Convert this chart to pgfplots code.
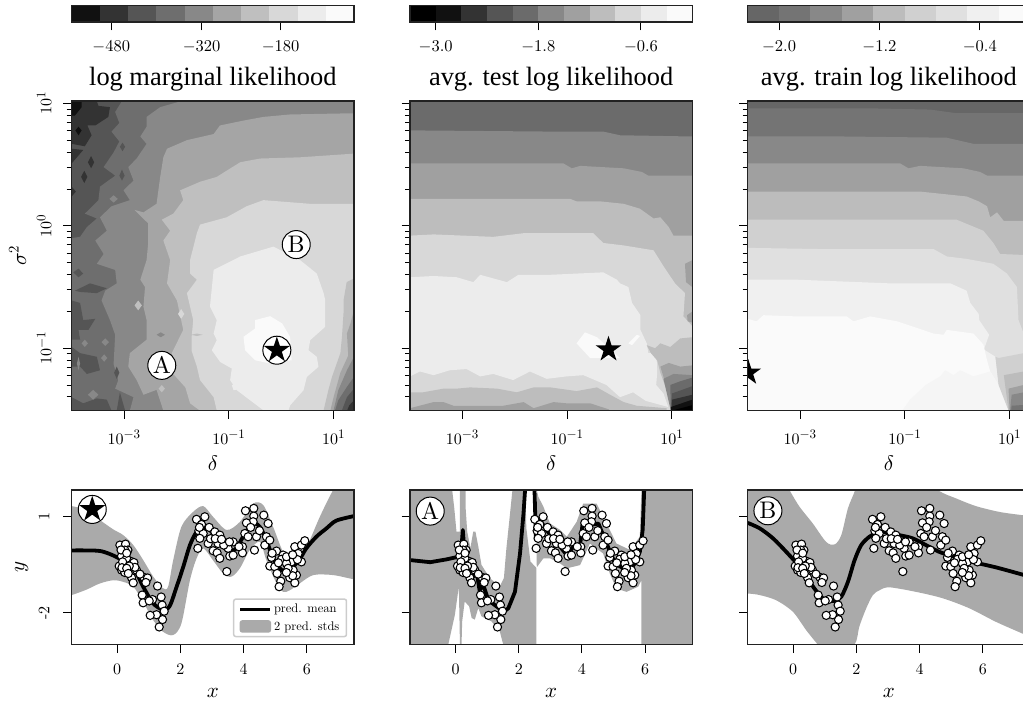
\RequirePackage{fix-cm}
\documentclass[border=0pt]{standalone}
\usepackage[no-math]{fontspec}
\usepackage{pgfplots}
\usepackage{pgfplotstable}
\pgfplotsset{compat=1.18}
\DeclareFontShape{OT1}{cmr}{m}{n}{<->cmr10}{}
\DeclareFontShape{OML}{cmm}{m}{it}{<->cmmi10}{}
\DeclareFontShape{OMS}{cmsy}{m}{n}{<->cmsy10}{}
\DeclareMathSizes{16}{16}{13}{10}
\newcommand{\cmtext}{\fontencoding{OT1}\fontfamily{cmr}\fontseries{m}\fontshape{n}\selectfont}
\newfontfamily\tnr{Liberation Serif}
\definecolor{g00}{HTML}{000000}\definecolor{g11}{HTML}{111111}\definecolor{g33}{HTML}{333333}
\definecolor{g55}{HTML}{555555}\definecolor{g66}{HTML}{666666}\definecolor{g6b}{HTML}{6B6B6B}
\definecolor{g6e}{HTML}{6E6E6E}\definecolor{g74}{HTML}{747474}\definecolor{g88}{HTML}{888888}
\definecolor{ga0}{HTML}{A0A0A0}\definecolor{ga5}{HTML}{A5A5A5}\definecolor{gbc}{HTML}{BCBCBC}
\definecolor{gbd}{HTML}{BDBDBD}\definecolor{gbf}{HTML}{BFBFBF}\definecolor{gd0}{HTML}{D0D0D0}
\definecolor{gd8}{HTML}{D8D8D8}\definecolor{ge0}{HTML}{E0E0E0}\definecolor{gec}{HTML}{ECECEC}
\definecolor{gf0}{HTML}{F0F0F0}\definecolor{gf5}{HTML}{F5F5F5}\definecolor{gfa}{HTML}{FAFAFA}\definecolor{band}{HTML}{AAAAAA}
\definecolor{spine}{HTML}{222222}
\pgfdeclareplotmark{fstar}{%
 \pgfpathmoveto{\pgfpointpolar{90}{\pgfplotmarksize}}%
 \pgfpathlineto{\pgfpointpolar{126}{0.382\pgfplotmarksize}}%
 \pgfpathlineto{\pgfpointpolar{162}{\pgfplotmarksize}}%
 \pgfpathlineto{\pgfpointpolar{198}{0.382\pgfplotmarksize}}%
 \pgfpathlineto{\pgfpointpolar{234}{\pgfplotmarksize}}%
 \pgfpathlineto{\pgfpointpolar{270}{0.382\pgfplotmarksize}}%
 \pgfpathlineto{\pgfpointpolar{306}{\pgfplotmarksize}}%
 \pgfpathlineto{\pgfpointpolar{342}{0.382\pgfplotmarksize}}%
 \pgfpathlineto{\pgfpointpolar{18}{\pgfplotmarksize}}%
 \pgfpathlineto{\pgfpointpolar{54}{0.382\pgfplotmarksize}}%
 \pgfpathclose\pgfusepathqfill}
\newcommand{\R}[2]{\addplot[fill=#1,draw=none,forget plot] coordinates {#2} --cycle;}
\newcommand{\CB}[3]{\addplot[fill=#1,draw=none,forget plot] coordinates {(#2,0)(#3,0)(#3,1)(#2,1)} --cycle;}
\newcommand{\starmark}[2]{\addplot[only marks,mark=fstar,mark size=13.6pt,mark options={fill=black,draw=none},forget plot] coordinates {(#1,#2)};}
\newcommand{\ringmark}[2]{\addplot[only marks,mark=*,mark size=14pt,mark options={fill=white,draw=black,line width=1pt},forget plot] coordinates {(#1,#2)};}
\newcommand{\lettermark}[3]{\ringmark{#1}{#2}\addplot[only marks,mark=text,text mark={#3},text mark as node=true,text mark style={font=\cmtext\fontsize{24}{24}\selectfont,inner sep=0pt,text=black},forget plot] coordinates {(#1,#2)};}
\pgfplotsset{
 common/.style={scale only axis,axis on top,enlargelimits=false,tick align=outside,
   xtick pos=bottom,ytick pos=left,axis line style={spine,line width=1.2pt},
   tick style={black,line width=1pt},major tick length=8.5pt,minor tick length=5pt,
   x tick label style={font=\cmtext\fontsize{16}{16}\selectfont},
   y tick label style={font=\cmtext\fontsize{16}{16}\selectfont}},
 cbar/.style={common,width=282.3pt,height=16.5pt,ymin=0,ymax=1,ytick=\empty,
   ytick pos=left,xticklabel style={font=\cmtext\fontsize{16.5}{16.5}\selectfont,anchor=base,yshift=-21pt}},
 field/.style={common,width=282.3pt,height=309.3pt,xmin=-4,xmax=1.39,ymin=-1.507,ymax=1.02,
   xtick={-3,-1,1},xticklabels={$10^{-3}$,$10^{-1}$,$10^{1}$},
   ytick={-1,0,1},
   minor ytick={-1.398,-1.301,-1.222,-1.155,-1.097,-1.046,-.699,-.523,-.398,-.301,-.222,-.155,-.097,-.046,.301,.477,.602,.699,.778,.845,.903,.954},
   xticklabel style={anchor=base,yshift=-26pt},
   xlabel={$\delta$},xlabel style={font=\fontsize{21}{21}\selectfont,at={(axis description cs:0.5,0)},anchor=center,yshift=-53pt},
   title style={font=\tnr\fontsize{26.4}{26.4}\selectfont,anchor=base,at={(axis description cs:0.5,1)},yshift=9pt}},
 fit/.style={common,width=282.3pt,height=154.7pt,xmin=-1.44,xmax=7.49,ymin=-2.99,ymax=1.81,
   xtick={0,2,4,6},xticklabels={$0$,$2$,$4$,$6$},ytick={-2,1},
   xticklabel style={anchor=base,yshift=-21pt},
   xlabel={$x$},xlabel style={font=\fontsize{21}{21}\selectfont,at={(axis description cs:0.5,0)},anchor=center,yshift=-48pt}},
 pts/.style={only marks,mark=*,mark size=4.1pt,mark options={fill=white,draw=black,line width=1.05pt},forget plot},
 mean/.style={black,line width=3.8pt,forget plot,line join=round},
}
\pgfplotstableread{
x y
.084 .10
.263 .13
.337 -.055
.137 -.24
.42 -.40
.527 -.44
.063 -.55
.21 -.47
.137 -.675
.24 -.75
.453 -.91
.506 -1.07
.61 -.675
.843 -.90
.96 -.92
.906 -1.06
.79 -1.45
.82 -1.69
1.275 -1.17
1.39 -1.51
1.42 -1.76
1.486 -1.95
1.433 -2.21
1.328 -2.44
1.243 -2.06
1.043 -2.08
1.117 -1.59
1.012 -1.63
.24 -.055
.295 -.31
.17 -.42
.56 -.59
.12 -.05
.30 -.15
.38 -.55
.15 -.60
.30 -.62
.72 -.80
.35 -.78
2.508 .90
2.771 .98
2.666 .74
2.908 .65
2.582 .545
2.719 .46
3.087 .51
3.245 .41
2.613 .31
2.877 .15
2.55 0.0
3.035 -.075
3.16 -.14
3.245 -.31
3.33 .18
3.667 .20
3.509 0.0
3.56 -.24
3.667 -.21
3.962 .05
3.962 -.14
4.036 .46
4.057 1.165
4.32 1.24
4.32 1.0
4.30 .825
4.088 .79
4.636 1.03
4.773 .77
4.405 .36
4.341 -.055
3.467 -.72
4.72 .36
4.668 .10
4.826 .255
4.14 .36
3.19 .15
3.37 .10
2.6 .65
2.95 .30
3.1 .30
3.3 .28
3.55 .20
3.85 .05
4.22 .65
4.5 .55
5.037 -.085
5.248 -.21
4.879 -.28
4.826 -.55
4.984 -.57
5.195 -.34
5.058 -.78
5.174 -1.02
5.121 -1.19
5.458 -.91
5.617 -1.07
5.669 -.83
5.564 -.675
5.511 -.42
5.353 -.47
5.617 .05
5.827 .10
5.933 .235
5.827 -.42
5.669 -.21
5.353 -.26
5.722 -.16
5.406 -.62
4.9 -.15
5.1 -.45
5.7 -.35
5.55 -.85
5.35 -.75
5.55 -.2
}\ptsdata
\begin{document}
\begin{tikzpicture}
\useasboundingbox (0,0) rectangle (1023pt,704pt);
\clip (0,0) rectangle (1023pt,704pt);
% ---------- colour bars
\begin{axis}[cbar,at={(71.7pt,682pt)},xmin=-550,xmax=-50,xtick={-480,-320,-180},xticklabels={$-480$,$-320$,$-180$}]
\CB{g11}{-550}{-500}\CB{g33}{-500}{-450}\CB{g55}{-450}{-400}\CB{g6e}{-400}{-350}\CB{g88}{-350}{-300}
\CB{ga5}{-300}{-250}\CB{gbf}{-250}{-200}\CB{gd8}{-200}{-150}\CB{gec}{-150}{-100}\CB{gfa}{-100}{-50}
\end{axis}
\begin{axis}[cbar,at={(410pt,682pt)},xmin=-3.3,xmax=0,xtick={-3,-1.8,-.6},xticklabels={$-3.0$,$-1.8$,$-0.6$}]
\CB{g00}{-3.3}{-3}\CB{g11}{-3}{-2.7}\CB{g33}{-2.7}{-2.4}\CB{g55}{-2.4}{-2.1}\CB{g6b}{-2.1}{-1.8}\CB{g88}{-1.8}{-1.5}
\CB{ga0}{-1.5}{-1.2}\CB{gbd}{-1.2}{-.9}\CB{gd8}{-.9}{-.6}\CB{gec}{-.6}{-.3}\CB{gfa}{-.3}{0}
\end{axis}
\begin{axis}[cbar,at={(747.7pt,682pt)},xmin=-2.25,xmax=0,xtick={-2,-1.2,-.4},xticklabels={$-2.0$,$-1.2$,$-0.4$}]
\CB{g66}{-2.25}{-2}\CB{g74}{-2}{-1.75}\CB{g88}{-1.75}{-1.5}\CB{ga0}{-1.5}{-1.25}\CB{gbc}{-1.25}{-1}
\CB{gd0}{-1}{-.75}\CB{ge0}{-.75}{-.5}\CB{gf0}{-.5}{-.25}\CB{gfa}{-.25}{0}
\end{axis}
% ---------- log marginal likelihood
\begin{axis}[field,at={(71.7pt,293.7pt)},title={log marginal likelihood},
  yticklabels={$10^{-1}$,$10^{0}$,$10^{1}$},
  yticklabel style={rotate=90,anchor=center,yshift=19pt},
  ylabel={$\sigma^2$},ylabel style={font=\fontsize{21}{21}\selectfont,at={(axis description cs:0,0.5)},anchor=center,yshift=54pt}]
\R{g55}{(-4,-1.51)(1.39,-1.51)(1.39,1.02)(-4,1.02)}
\R{g33}{(-4,1.02)(-3.52,1.02)(-3.49,.98)(-3.27,.97)(-3.30,.89)(-3.55,.82)(-3.70,.82)(-3.62,.74)(-3.75,.65)(-4,.67)}
\R{g11}{(-4,1.02)(-3.81,1.02)(-3.81,.97)(-3.94,.90)(-4,.90)}
\R{g11}{(-3.93,.78)(-3.87,.81)(-3.81,.78)(-3.87,.74)}
\R{g33}{(-4,.63)(-3.78,.62)(-3.94,.54)(-4,.51)}
\R{g33}{(-3.69,.52)(-3.63,.57)(-3.57,.52)(-3.63,.47)}
\R{g33}{(-3.82,.40)(-3.76,.45)(-3.70,.40)(-3.76,.35)}
\R{g33}{(-4,.32)(-3.92,.28)(-4,.24)}
\R{g6e}{(-3.04,1.02)(-3.17,.93)(-3.09,.84)(-3.24,.77)(-3.09,.69)(-3.20,.60)(-3.39,.48)(-3.17,.41)(-3.46,.32)(-3.49,.21)(-3.65,.14)(-3.75,.10)(-3.52,.06)(-3.71,-.01)(-3.84,-.09)(-4,-.10)(-4,-1.51)(1.39,-1.51)(1.39,1.02)}
\R{g55}{(-3.08,.646)(-3.03,.68)(-2.98,.646)(-3.03,.61)}
\R{g55}{(-3.09,.41)(-3.04,.46)(-2.99,.41)(-3.04,.37)}
\R{g55}{(-3.29,.41)(-3.24,.43)(-3.19,.41)(-3.24,.39)}
\R{g55}{(-3.97,-.38)(-3.87,-.35)(-3.78,-.39)(-3.87,-.42)}
\R{g55}{(-3.94,-.53)(-3.65,-.47)(-3.33,-.51)(-3.52,-.55)(-3.84,-.54)}
\R{g55}{(-4,-.61)(-3.84,-.63)(-3.78,-.77)(-3.55,-.76)(-3.68,-.85)(-3.87,-.85)(-3.84,-.93)(-4,-.93)}
\R{g55}{(-4,-.99)(-3.84,-1.04)(-3.52,-1.07)(-3.46,-1.18)(-3.71,-1.21)(-3.84,-1.15)(-4,-1.15)}
\R{g55}{(-4,-1.40)(-3.78,-1.45)(-3.52,-1.41)(-3.33,-1.42)(-3.24,-1.51)(-4,-1.51)}
\R{g55}{(-3.08,-1.36)(-2.98,-1.51)(-3.14,-1.51)}
\R{g88}{(1.39,1.02)(-1.90,1.02)(-2.31,.97)(-2.57,.89)(-2.57,.81)(-2.69,.73)(-2.57,.67)(-2.76,.55)(-2.92,.48)(-2.82,.37)(-3.01,.29)(-2.89,.21)(-3.24,.16)(-3.46,.07)(-3.33,-.04)(-3.55,-.12)(-3.39,-.23)(-3.52,-.31)(-3.17,-.36)(-3.14,-.47)(-3.36,-.53)(-3.43,-.61)(-3.27,-.77)(-3.17,-.89)(-3.20,-1.13)(-3.11,-1.26)(-3.17,-1.33)(-2.82,-1.40)(-2.89,-1.51)(1.39,-1.51)}
\R{g88}{(-3.28,.22)(-3.2,.25)(-3.12,.22)(-3.2,.19)}
\R{g88}{(-3.2,.10)(-3.13,.14)(-3.06,.10)(-3.13,.06)}
\R{g88}{(-3.43,-.95)(-3.36,-.92)(-3.29,-.95)(-3.36,-.98)}
\R{g88}{(-3.81,-.96)(-3.75,-.93)(-3.69,-.96)(-3.75,-.99)}
\R{g88}{(-3.44,-1.08)(-3.38,-1.05)(-3.32,-1.08)(-3.38,-1.11)}
\R{g88}{(-3.9,-1.125)(-3.87,-1.07)(-3.84,-1.125)(-3.87,-1.18)}
\R{g88}{(-3.69,-1.38)(-3.59,-1.34)(-3.49,-1.38)(-3.59,-1.42)}
\R{g55}{(-3.19,-1.2)(-3.14,-1.15)(-3.09,-1.2)(-3.14,-1.25)}
\R{ga5}{(1.39,.92)(.17,.91)(-.34,.89)(-.72,.86)(-1.17,.82)(-1.29,.75)(-1.80,.70)(-2.18,.63)(-2.25,.56)(-2.31,.40)(-2.38,.18)(-2.63,.11)(-2.80,.13)(-2.54,.02)(-2.54,-.14)(-2.57,-.28)(-2.69,-.44)(-2.60,-.50)(-2.63,-.66)(-2.57,-.77)(-2.57,-.93)(-2.89,-1.04)(-2.92,-1.15)(-2.76,-1.26)(-2.63,-1.38)(-2.38,-1.34)(-2.25,-1.51)(1.39,-1.51)}
\R{g88}{(-2.38,-.89)(-2.3,-.87)(-2.22,-.89)(-2.3,-.91)}
\R{gbf}{(1.39,.59)(.36,.56)(-.40,.55)(-.78,.52)(-.97,.47)(-1.23,.40)(-1.55,.36)(-1.93,.29)(-1.87,.21)(-2.06,.10)(-2.28,.05)(-2.12,-.04)(-2.25,-.12)(-2.12,-.28)(-2.18,-.47)(-1.99,-.61)(-1.87,-.85)(-2.09,-1.04)(-2.06,-1.21)(-1.83,-1.32)(-1.74,-1.45)(-1.55,-1.51)(1.39,-1.51)}
\R{gbf}{(-2.8,-.65)(-2.73,-.61)(-2.66,-.65)(-2.73,-.69)}
\R{gbf}{(-2.34,-1.33)(-2.28,-1.30)(-2.22,-1.33)(-2.28,-1.36)}
\R{gd8}{(1.39,.18)(.55,.18)(-.34,.21)(-.66,.16)(-1.04,.07)(-1.55,.01)(-1.61,-.06)(-1.74,-.28)(-1.74,-.39)(-1.61,-.44)(-1.80,-.55)(-1.68,-.77)(-1.71,-.91)(-1.71,-1.02)(-1.61,-1.15)(-1.55,-1.26)(-1.29,-1.40)(-1.23,-1.51)(1.39,-1.51)}
\R{gd8}{(-1.97,-.72)(-1.91,-.68)(-1.85,-.72)(-1.91,-.76)}
\R{gbf}{(-1.72,-.89)(-1.61,-.88)(-1.5,-.89)(-1.61,-.90)}
\R{gec}{(-.15,-.17)(-.78,-.25)(-1.29,-.36)(-1.36,-.66)(-1.23,-.77)(-1.29,-.88)(-1.23,-.934)(-1.325,-1.016)(-1.166,-1.112)(-.943,-1.166)(-.975,-1.261)(-.847,-1.343)(-.593,-1.425)(-.339,-1.507)(.139,-1.507)(.172,-1.466)(.426,-1.343)(.49,-1.234)(.712,-1.152)(.68,-1.07)(.52,-1.016)(.554,-.934)(.84,-.825)(.84,-.607)(.81,-.55)(.68,-.39)(.36,-.28)}
\R{gec}{(-.943,-1.30)(-.816,-1.29)(-.75,-1.33)(-.91,-1.343)}
\R{gfa}{(-.21,-.738)(-.50,-.77)(-.50,-.839)(-.72,-.907)(-.69,-1.016)(-.50,-1.098)(-.21,-1.125)(.20,-1.098)(.17,-.907)(.02,-.798)}
\R{gbf}{(1.39,-.43)(1.25,-.46)(1.19,-.61)(1.19,-.71)(1.16,-.907)(1.13,-1.04)(.97,-1.234)(.90,-1.343)(.81,-1.507)(1.39,-1.507)}
\R{ga5}{(1.39,-.69)(1.32,-.80)(1.255,-.88)(1.28,-1.06)(1.13,-1.2)(1.0,-1.40)(.94,-1.507)(1.39,-1.507)}
\R{g88}{(1.39,-1.07)(1.255,-1.18)(1.09,-1.343)(1.0,-1.507)(1.39,-1.507)}
\R{g6e}{(1.39,-1.234)(1.255,-1.316)(1.09,-1.425)(1.03,-1.507)(1.39,-1.507)}
\R{g55}{(1.39,-1.33)(1.255,-1.40)(1.16,-1.507)(1.39,-1.507)}
\R{g33}{(1.39,-1.425)(1.3,-1.466)(1.26,-1.507)(1.39,-1.507)}
\lettermark{-2.28}{-1.14}{A}
\lettermark{.287}{-.153}{B}
\ringmark{-.083}{-1.016}
\starmark{-.083}{-1.016}
\end{axis}
% ---------- test
\begin{axis}[field,at={(410pt,293.7pt)},title={avg. test log likelihood},yticklabels={}]
\R{g6b}{(-4,-1.51)(1.39,-1.51)(1.39,1.02)(-4,1.02)}
\R{g88}{(-4,.78)(-1.26,.77)(-.31,.77)(.01,.74)(1.39,.73)(1.39,-1.51)(-4,-1.51)}
\R{ga0}{(-4,.51)(-1.07,.51)(-.91,.47)(-.75,.49)(.08,.47)(.43,.44)(.55,.41)(1.39,.41)(1.39,-1.51)(-4,-1.51)}
\R{gbd}{(-4,.22)(-3.55,.22)(-2.47,.22)(-.94,.22)(-.82,.20)(-.37,.20)(.08,.18)(.39,.14)(.65,.06)(.78,.07)(.94,-.01)(1.03,-.08)(1.39,-.08)(1.39,-1.51)(-4,-1.51)}
\R{ga0}{(1.25,-.31)(1.39,-.28)(1.39,-.50)(1.27,-.46)}
\R{gd8}{(-4,-.08)(-3.55,-.07)(-2.41,-.09)(-1.83,-.06)(-.50,-.06)(-.31,-.14)(.08,-.16)(.65,-.2)(.84,-.33)(1.06,-.47)(1.25,-.55)(1.22,-.74)(1.39,-.82)(1.39,-1.51)(-4,-1.51)}
\R{ga0}{(1.29,-.73)(1.39,-.70)(1.39,-.79)(1.3,-.78)}
\R{gec}{(-4,-.42)(-3.55,-.41)(-3.11,-.42)(-2.79,-.46)(-2.66,-.40)(-2.15,-.46)(-1.93,-.40)(-1.32,-.40)(-.31,-.38)(-.05,-.44)(.01,-.47)(.17,-.50)(.24,-.63)(.4,-.73)(.4,-.85)(.52,-.96)(.55,-1.04)(.68,-1.04)(.71,-1.10)(.72,-1.2)(.7,-1.3)(.84,-1.37)(.93,-1.48)(.5,-1.43)(.26,-1.36)(.01,-1.40)(-.25,-1.30)(-.69,-1.22)(-1.01,-1.23)(-1.39,-1.25)(-1.71,-1.19)(-2.03,-1.26)(-2.41,-1.21)(-2.66,-1.23)(-2.92,-1.17)(-3.24,-1.18)(-3.55,-1.22)(-3.81,-1.19)(-4,-1.23)}
\R{gbd}{(-4,-1.36)(-3.75,-1.36)(-3.36,-1.33)(-3.11,-1.33)(-2.85,-1.32)(-2.34,-1.33)(-1.96,-1.36)(-1.64,-1.32)(-1.32,-1.32)(-.82,-1.35)(-.43,-1.32)(-.18,-1.38)(.08,-1.44)(.33,-1.47)(.90,-1.49)(.90,-1.51)(-4,-1.51)}
\R{ga0}{(-4,-1.49)(-3.55,-1.44)(-3.36,-1.44)(-3.17,-1.47)(-2.85,-1.47)(-2.22,-1.47)(-1.83,-1.44)(-1.64,-1.49)(-1.26,-1.44)(-1.01,-1.45)(-.56,-1.45)(-.2,-1.50)(-.2,-1.51)(-4,-1.51)}
\R{gfa}{(-.82,-.96)(-.66,-.87)(-.43,-.91)(.01,-1.08)(-.56,-1.08)}
\R{gfa}{(.17,-.96)(.33,-.89)(.39,-.90)(.24,-.975)}
\R{gbd}{(.52,-.975)(.68,-1.0)(.78,-.96)(.97,-.99)(1.16,-.92)(1.39,-.91)(1.39,-1.51)(1.0,-1.51)(.95,-1.4)(.78,-1.2)(.72,-1.1)(.6,-1.04)}
\R{ga0}{(.78,-1.15)(.94,-1.12)(1.16,-1.15)(1.39,-1.14)(1.39,-1.51)(.98,-1.51)(.92,-1.35)}
\R{g88}{(.84,-1.25)(1.03,-1.21)(1.39,-1.22)(1.39,-1.51)(.98,-1.51)(.92,-1.4)}
\R{g6b}{(.97,-1.30)(1.16,-1.27)(1.39,-1.24)(1.39,-1.51)(.98,-1.51)}
\R{g55}{(1.0,-1.37)(1.39,-1.31)(1.39,-1.51)(.99,-1.51)}
\R{g33}{(1.0,-1.42)(1.39,-1.38)(1.39,-1.51)(.99,-1.51)}
\R{g11}{(.98,-1.48)(1.39,-1.42)(1.39,-1.51)(.98,-1.51)}
\R{g00}{(1.0,-1.51)(1.39,-1.465)(1.39,-1.51)}
\starmark{-.21}{-1.01}
\end{axis}
% ---------- train
\begin{axis}[field,at={(747.7pt,293.7pt)},title={avg. train log likelihood},yticklabels={},clip marker paths=true]
\R{g66}{(-4,-1.51)(1.39,-1.51)(1.39,1.02)(-4,1.02)}
\R{g74}{(-4,.96)(-1.66,.96)(-.52,.95)(-.01,.92)(1.39,.92)(1.39,-1.51)(-4,-1.51)}
\R{g88}{(-4,.73)(-2.17,.73)(-.20,.72)(.31,.67)(1.39,.67)(1.39,-1.51)(-4,-1.51)}
\R{ga0}{(-4,.51)(-1.09,.51)(-.93,.47)(-.71,.49)(.12,.47)(.44,.44)(.57,.41)(1.39,.41)(1.39,-1.51)(-4,-1.51)}
\R{gbc}{(-4,.28)(-.71,.28)(.18,.24)(.41,.20)(.57,.16)(.63,.07)(.76,.11)(.89,.04)(1.39,.04)(1.39,-1.51)(-4,-1.51)}
\R{gd0}{(-4,.05)(-2.43,.05)(-.01,.05)(.50,-.04)(.69,-.14)(.82,-.23)(1.39,-.24)(1.39,-1.51)(-4,-1.51)}
\R{ge0}{(-4,-.18)(-2.55,-.19)(-.45,-.19)(-.20,-.25)(.18,-.27)(.69,-.31)(.95,-.39)(1.14,-.50)(1.17,-.77)(1.27,-.88)(1.39,-.88)(1.39,-1.51)(-4,-1.51)}
\R{gf0}{(-4,-.44)(-3.06,-.44)(-1.28,-.47)(-.13,-.47)(.18,-.53)(.25,-.63)(.41,-.72)(.42,-.77)(.61,-.89)(.51,-1.01)(.73,-1.07)(.79,-1.30)(.98,-1.51)(-4,-1.51)}
\R{gfa}{(-4,-.76)(-3.83,-.78)(-3.70,-.73)(-3.06,-.74)(-2.11,-.74)(-1.98,-.78)(-1.66,-.74)(-1.15,-.78)(-.45,-.88)(-.26,-.89)(-.20,-.85)(.31,-.88)(.5,-.97)(.57,-1.10)(.63,-1.19)(.79,-1.30)(.98,-1.51)(-4,-1.51)}
\R{gf5}{(.63,-1.19)(.31,-1.23)(.057,-1.18)(-.07,-1.22)(-.23,-1.18)(-.325,-1.23)(-.6,-1.3)(-.9,-1.42)(-1.05,-1.51)(.98,-1.51)(.79,-1.30)}
\R{gd0}{(.73,-1.07)(.79,-1.08)(1.39,-1.03)(1.39,-1.51)(.98,-1.51)(.79,-1.30)}
\R{gbc}{(.89,-1.22)(1.27,-1.19)(1.39,-1.19)(1.39,-1.51)(.98,-1.51)}
\R{ga0}{(.98,-1.33)(1.27,-1.30)(1.39,-1.30)(1.39,-1.51)(1.0,-1.51)}
\R{g88}{(1.04,-1.38)(1.39,-1.35)(1.39,-1.51)(1.01,-1.51)}
\R{g74}{(1.04,-1.47)(1.39,-1.46)(1.39,-1.51)(1.03,-1.51)}
\starmark{-3.99}{-1.2}
\end{axis}
% ---------- fit panels
\begin{axis}[fit,at={(71.7pt,59.3pt)},yticklabels={-2,1},
  yticklabel style={rotate=90,anchor=center,yshift=19pt},
  ylabel={$y$},ylabel style={font=\fontsize{21}{21}\selectfont,at={(axis description cs:0,0.5)},anchor=center,yshift=50pt},
  legend style={at={(0.976,0.048)},anchor=south east,draw=gray!40,line width=1.5pt,rounded corners=2pt,
    font=\cmtext\fontsize{12.5}{12.5}\selectfont,fill=white,inner xsep=5pt,inner ysep=3pt,row sep=3pt},legend cell align=left]
\addplot[fill=band,draw=none,forget plot,smooth,tension=.5] coordinates {(-2,1.4)(-1.44,1.31)(-.97,1.19)(-.55,.88)(-.13,.59)(.19,.41)(.51,.10)(.82,-.36)(1.14,-.88)(1.45,-1.24)(1.61,-1.19)(1.77,-.37)(2.03,.67)(2.40,1.13)(2.72,1.31)(3.03,.98)(3.46,.57)(3.88,.82)(4.30,1.39)(4.62,1.34)(4.93,.67)(5.25,-.11)(5.56,-.31)(5.77,-.18)(6.04,.15)(6.41,.98)(6.83,1.81)(7.49,2.9)(8,3.2)(8,-1)(7.49,-.96)(6.83,-.83)(6.20,-.83)(5.77,-1.09)(5.46,-1.30)(5.25,-1.35)(5.04,-1.09)(4.72,-.37)(4.51,.20)(4.19,-.05)(3.88,-.62)(3.61,-.88)(3.35,-.78)(3.03,-.37)(2.72,0)(2.51,-.31)(2.30,-.99)(2.03,-2.33)(1.77,-2.69)(1.45,-2.59)(1.14,-2.23)(.82,-1.66)(.51,-1.19)(.19,-1.04)(-.13,-.99)(-.55,-1.09)(-.97,-1.28)(-1.44,-1.45)(-2,-1.6)} --cycle;
\addplot[pts] table {\ptsdata};
\addplot[mean,smooth,tension=.5] coordinates {(-1.44,-.065)(-1,-.065)(-.5,-.09)(0,-.28)(.5,-.59)(.82,-1.19)(1.14,-1.71)(1.45,-1.90)(1.66,-1.79)(1.88,-1.19)(2.09,-.57)(2.3,.10)(2.51,.51)(2.72,.64)(2.93,.57)(3.14,.31)(3.35,.05)(3.56,-.10)(3.77,0)(3.98,.36)(4.19,.67)(4.35,.77)(4.51,.67)(4.72,.26)(4.93,-.31)(5.14,-.62)(5.3,-.70)(5.51,-.62)(5.77,-.34)(5.98,0)(6.3,.36)(6.62,.62)(6.93,.86)(7.49,1.0)};
\addlegendimage{legend image code/.code={\draw[black,line width=3.3pt] (0pt,0pt)--(30pt,0pt);}}
\addlegendentry{pred. mean}
\addlegendimage{legend image code/.code={\fill[band] (0pt,-5.5pt) rectangle (30pt,5.5pt);}}
\addlegendentry{2 pred. stds}
\ringmark{-.79}{1.207}
\starmark{-.79}{1.207}
\end{axis}
\begin{axis}[fit,at={(410pt,59.3pt)},yticklabels={}]
\addplot[fill=band,draw=none,forget plot] coordinates {(-1.44,1.81)(-.105,1.81)(-.04,1.25)(.03,.52)(.14,.52)(.14,1.81)(.32,1.81)(.32,1.25)(.37,.52)(.47,.01)(.56,.52)(.63,.52)(.72,.06)(.82,-.51)(1.08,-.92)(1.40,-1.18)(1.53,-.92)(1.61,.01)(1.72,1.04)(1.80,1.81)(2.21,1.81)(2.24,.63)(2.37,-.41)(2.56,-.61)(2.56,-2.99)(1.51,-2.99)(1.40,-2.58)(1.14,-2.27)(.82,-2.11)(.72,-1.85)(.61,-2.21)(.51,-2.16)(.43,-1.80)(.29,-1.65)(.21,-2.27)(.19,-2.99)(.14,-2.99)(.105,-1.18)(-.02,-2.06)(-.23,-2.99)(-1.44,-2.99)} --cycle;
\addplot[fill=band,draw=none,forget plot] coordinates {(2.55,1.2)(2.57,1.81)(2.62,1.60)(2.78,1.29)(2.99,.77)(3.31,.57)(3.52,.36)(3.83,.82)(4.04,1.39)(4.46,1.39)(4.78,.77)(5.09,.15)(5.52,-.05)(5.83,.36)(5.88,1.81)(7.49,1.81)(7.49,-2.99)(5.88,-2.99)(5.88,-.99)(5.78,-1.19)(5.41,-1.35)(5.09,-1.25)(4.88,-.78)(4.67,-.16)(4.25,.15)(3.94,-.52)(3.52,-.62)(3.31,-.47)(2.99,-.31)(2.78,-.31)(2.57,-.59)} --cycle;
\addplot[pts] table {\ptsdata};
\addplot[mean] coordinates {(-1.43,-.365)(-.8,-.43)(-.27,-.34)(.09,-.26)(.17,-.21)(.23,.57)(.29,-.21)(.46,-.88)(.57,-.88)(.65,-.62)(.76,-1.30)(.88,-1.14)(1.04,-1.61)(1.31,-1.81)(1.52,-1.97)(1.67,-1.86)(1.88,-1.35)(2.04,-.16)(2.15,1.08)(2.2,1.81)(2.23,2.43)};
\addplot[mean] coordinates {(2.48,2.43)(2.52,1.08)(2.54,.26)(2.65,.90)(2.88,.57)(3.09,.31)(3.31,.05)(3.52,-.21)(3.73,.05)(3.94,.10)(4.02,.77)(4.25,.72)(4.52,.77)(4.78,.15)(5.04,-.47)(5.31,-.62)(5.46,-.73)(5.67,-.47)(5.83,-.11)(5.92,.57)(5.96,1.60)(5.99,2.43)};
\lettermark{-.8}{1.155}{A}
\end{axis}
\begin{axis}[fit,at={(747.7pt,59.3pt)},yticklabels={}]
\addplot[fill=band,draw=none,forget plot,smooth,tension=.5] coordinates {(-2,2.6)(-.5,2.5)(-.12,1.81)(.2,1.29)(.62,.77)(1.04,.20)(1.31,.12)(1.52,.41)(1.73,1.24)(1.96,1.81)(2.2,2.6)(3.5,2.6)(4.57,1.81)(5.15,1.55)(5.78,1.31)(6.52,1.13)(7.24,1.03)(7.49,1.0)(8,.95)(8,-3)(7.49,-2.75)(7.24,-2.64)(6.41,-2.28)(5.57,-1.86)(4.73,-1.55)(3.88,-1.35)(3.04,-1.21)(2.73,-1.30)(2.52,-1.45)(2.31,-1.86)(2.09,-2.43)(1.94,-2.99)(1.3,-3.6)(.78,-2.99)(.41,-2.54)(-.01,-1.97)(-.54,-1.61)(-1.06,-1.45)(-1.44,-1.40)(-2,-1.35)} --cycle;
\addplot[pts] table {\ptsdata};
\addplot[mean,smooth,tension=.5] coordinates {(-1.44,.79)(-1.06,.62)(-.64,.31)(-.22,-.11)(.2,-.57)(.52,-1.04)(.83,-1.45)(1.04,-1.61)(1.31,-1.63)(1.52,-1.50)(1.73,-1.04)(1.94,-.37)(2.15,.10)(2.41,.36)(2.62,.46)(2.94,.51)(3.36,.41)(3.78,.31)(4.2,.10)(4.62,-.11)(5.04,-.24)(5.46,-.37)(5.88,-.47)(6.41,-.59)(6.94,-.73)(7.49,-.88)};
\lettermark{-.8}{1.165}{B}
\end{axis}
\end{tikzpicture}
\end{document}
